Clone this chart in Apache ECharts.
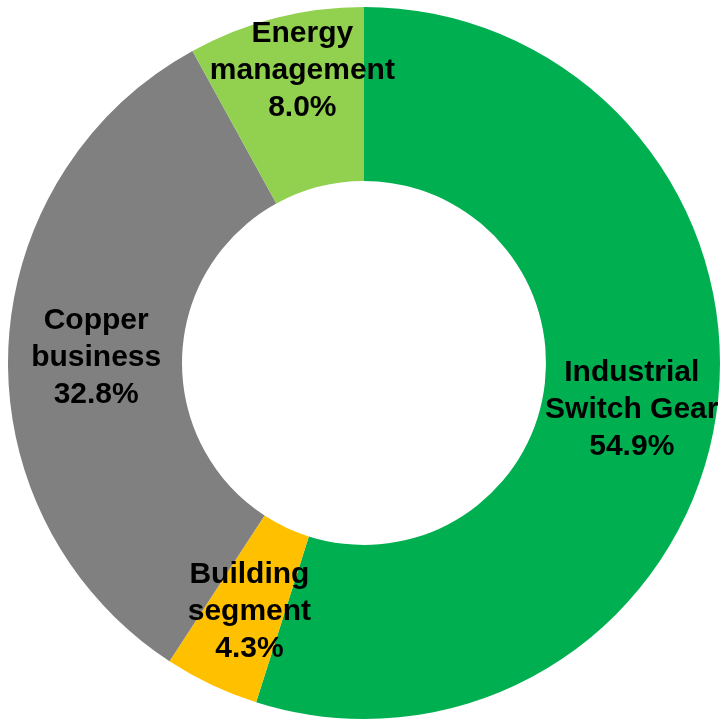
<!DOCTYPE html>
<html>
<head>
<meta charset="utf-8">
<script src="https://cdn.jsdelivr.net/npm/echarts@6/dist/echarts.min.js"></script>
<style>
html,body{margin:0;padding:0;background:#fff;}
#chart{width:721px;height:719px;}
</style>
</head>
<body>
<div id="chart"></div>
<script>
const categories = ['Industrial\nSwitch Gear', 'Building\nsegment', 'Copper\nbusiness', 'Energy\nmanagement'];
const values = [54.9, 4.3, 32.8, 8.0];
const colors = ['#00B050', '#FFC000', '#808080', '#92D050'];
const labelOffsets = [[-1, 5], [2, 3], [4, 5], [6, -29]];

const chart = echarts.init(document.getElementById('chart'));
chart.setOption({
  animation: false,
  series: [{
    type: 'pie',
    center: [364, 363],
    radius: [182, 356],
    startAngle: 90,
    clockwise: true,
    avoidLabelOverlap: false,
    label: {
      show: true,
      position: 'inside',
      formatter: p => p.name + '\n' + p.value.toFixed(1) + '%',
      color: '#000',
      fontFamily: 'Liberation Sans',
      fontWeight: 'bold',
      fontSize: 30,
      lineHeight: 37,
      align: 'center'
    },
    labelLine: { show: false },
    emphasis: { disabled: true },
    data: categories.map((c, i) => ({
      name: c,
      value: values[i],
      itemStyle: { color: colors[i] },
      label: { offset: labelOffsets[i] }
    }))
  }]
});
</script>
</body>
</html>
